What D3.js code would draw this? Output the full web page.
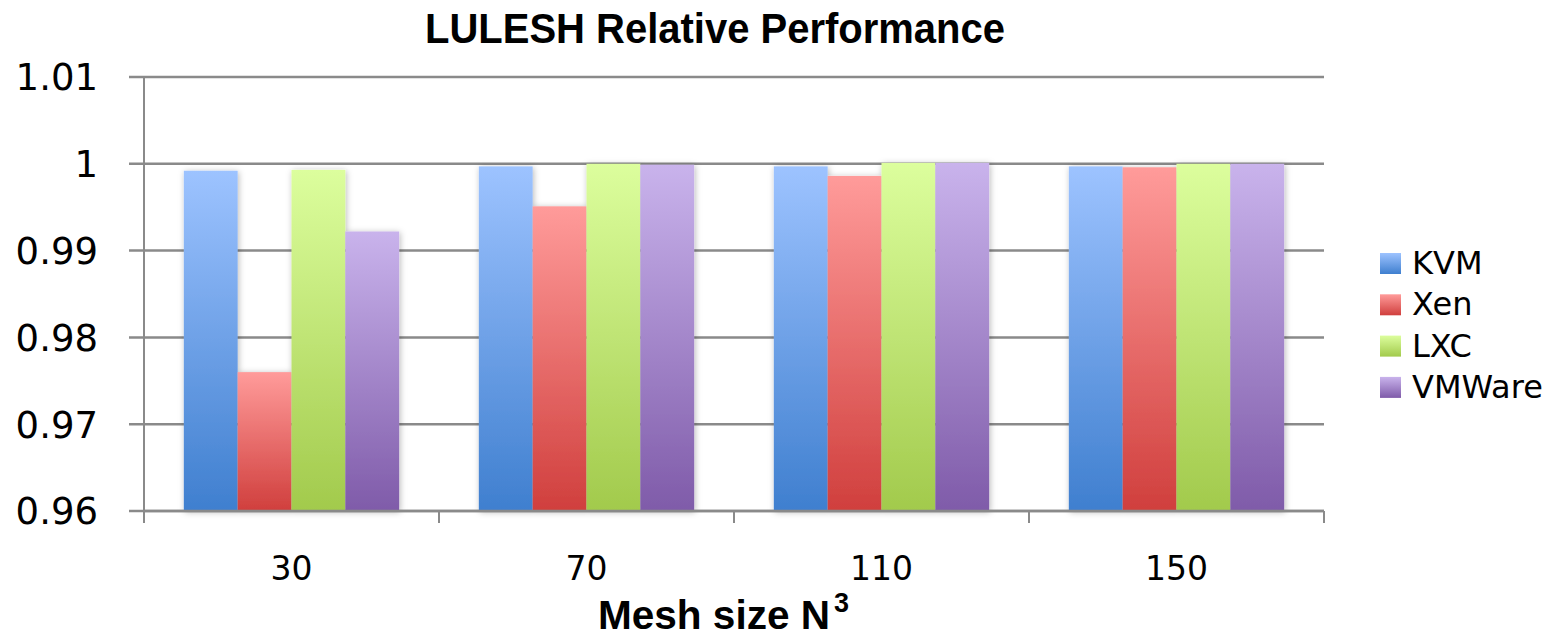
<!DOCTYPE html>
<html>
<head>
<meta charset="utf-8">
<script src="https://cdn.jsdelivr.net/npm/d3@7"></script>
<style>
  html, body { margin: 0; padding: 0; background: #fff; }
  svg { display: block; }
</style>
</head>
<body>
<svg id="chart" width="1560" height="638"></svg>
<script>
// Mesh sizes (N) on the x axis
const categories = ["30", "70", "110", "150"];
const seriesNames = ["KVM", "Xen", "LXC", "VMWare"];

// Relative performance per hypervisor, one value per mesh size
const kvm    = [0.9992, 0.9997, 0.9997, 0.9997];
const xen    = [0.9760, 0.9951, 0.9986, 0.9996];
const lxc    = [0.9993, 1.0000, 1.0001, 1.0000];
const vmware = [0.9922, 0.9999, 1.0001, 1.0000];

const yTicks = [0.96, 0.97, 0.98, 0.99, 1.00, 1.01];
const yTickLabels = ["0.96", "0.97", "0.98", "0.99", "1", "1.01"];

const seriesValues = [kvm, xen, lxc, vmware];
const colorsTop    = ["#9dc3ff", "#ff9b9a", "#dcfe9d", "#c9b3ec"];
const colorsBottom = ["#3f7fcf", "#d03f3d", "#a2ca4c", "#7f5ba9"];

const svg = d3.select("#chart");
const plotLeft = 144, plotRight = 1324, plotTop = 77, plotBottom = 511;
const axisColor = "#8a8a8a";

const x0 = d3.scaleBand().domain(categories).range([plotLeft, plotRight]).padding(0);
const bw = x0.bandwidth();
const x1 = d3.scaleBand().domain(seriesNames).range([bw * 0.135, bw * 0.865]).padding(0);
const y = d3.scaleLinear().domain([0.96, 1.01]).range([plotBottom, plotTop]);

const defs = svg.append("defs");
seriesNames.forEach((s, i) => {
  const g = defs.append("linearGradient")
    .attr("id", "grad" + i).attr("x1", 0).attr("y1", 0).attr("x2", 0).attr("y2", 1);
  g.append("stop").attr("offset", "0%").attr("stop-color", colorsTop[i]);
  g.append("stop").attr("offset", "100%").attr("stop-color", colorsBottom[i]);
});
const f = defs.append("filter").attr("id", "shadow")
  .attr("x", "-20%").attr("y", "-20%").attr("width", "140%").attr("height", "140%");
f.append("feDropShadow").attr("dx", 1).attr("dy", 1).attr("stdDeviation", 3)
  .attr("flood-color", "#000").attr("flood-opacity", 0.28);

// Horizontal gridlines + left ticks
svg.append("g").selectAll("line").data(yTicks).join("line")
  .attr("x1", plotLeft - 15).attr("x2", plotRight)
  .attr("y1", d => y(d)).attr("y2", d => y(d))
  .attr("stroke", axisColor).attr("stroke-width", 2.5);

// Y axis line
svg.append("line").attr("x1", plotLeft).attr("x2", plotLeft).attr("y1", plotTop).attr("y2", plotBottom + 12)
  .attr("stroke", axisColor).attr("stroke-width", 2);

// Y tick labels
svg.append("g").selectAll("text").data(yTicks).join("text")
  .attr("x", 98).attr("y", d => y(d)).attr("dy", "0.36em")
  .attr("text-anchor", "end")
  .attr("font-family", "DejaVu Sans").attr("font-size", 37).attr("fill", "#000")
  .text((d, i) => yTickLabels[i]);

// Bars
const groups = svg.append("g").selectAll("g").data(categories).join("g")
  .attr("transform", d => `translate(${x0(d)},0)`)
  .attr("filter", "url(#shadow)");
groups.selectAll("rect")
  .data((c, ci) => seriesNames.map((s, si) => ({ s, si, v: seriesValues[si][ci] })))
  .join("rect")
  .attr("x", d => x1(d.s)).attr("width", x1.bandwidth())
  .attr("y", d => y(d.v)).attr("height", d => y(0.96) - y(d.v))
  .attr("fill", d => `url(#grad${d.si})`);

// X axis line and band ticks
svg.append("line").attr("x1", plotLeft).attr("x2", plotRight).attr("y1", plotBottom).attr("y2", plotBottom)
  .attr("stroke", axisColor).attr("stroke-width", 2.5);
const bounds = categories.map(c => x0(c)).concat([plotRight]);
svg.append("g").selectAll("line").data(bounds).join("line")
  .attr("x1", d => d).attr("x2", d => d).attr("y1", plotBottom).attr("y2", plotBottom + 12)
  .attr("stroke", axisColor).attr("stroke-width", 2);

// X tick labels
svg.append("g").selectAll("text").data(categories).join("text")
  .attr("x", d => x0(d) + bw / 2).attr("y", 580)
  .attr("text-anchor", "middle")
  .attr("font-family", "DejaVu Sans").attr("font-size", 33).attr("fill", "#000")
  .text(d => d);

// Title (condensed bold)
svg.append("text")
  .attr("x", 425).attr("y", 43)
  .attr("textLength", 580).attr("lengthAdjust", "spacingAndGlyphs")
  .attr("font-family", "Liberation Sans").attr("font-weight", "bold").attr("font-size", 42)
  .attr("fill", "#000").text("LULESH Relative Performance");

// X axis title, with the exponent as its own raised label
svg.append("text")
  .attr("x", 598).attr("y", 629)
  .attr("textLength", 232).attr("lengthAdjust", "spacingAndGlyphs")
  .attr("font-family", "Liberation Sans").attr("font-weight", "bold").attr("font-size", 40)
  .attr("fill", "#000").text("Mesh size N");
svg.append("text")
  .attr("x", 834).attr("y", 612)
  .attr("font-family", "Liberation Sans").attr("font-weight", "bold").attr("font-size", 27)
  .attr("fill", "#000").text("3");

// Legend
const legend = svg.append("g").selectAll("g").data(seriesNames).join("g")
  .attr("transform", (d, i) => `translate(1380, ${253 + i * 41.3})`);
legend.append("rect").attr("width", 21).attr("height", 21)
  .attr("fill", (d, i) => `url(#grad${i})`);
legend.append("text").attr("x", 32).attr("y", 21)
  .attr("font-family", "DejaVu Sans").attr("font-size", 32).attr("fill", "#000")
  .text(d => d);
</script>
</body>
</html>
